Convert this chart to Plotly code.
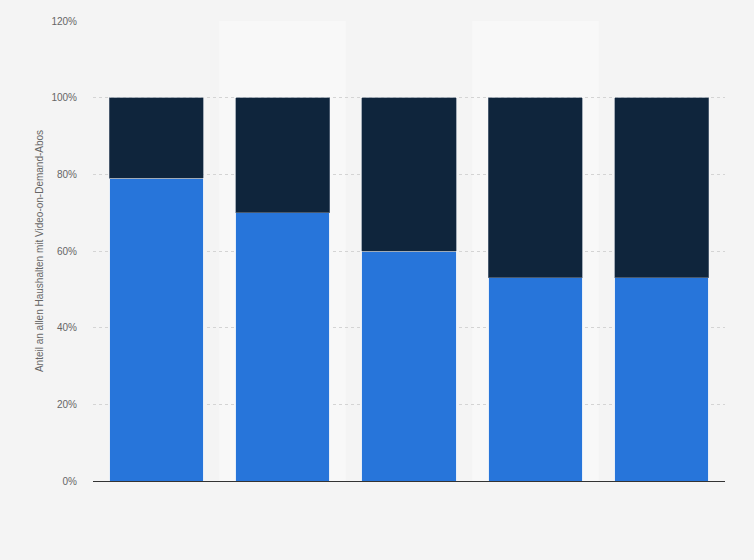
import plotly.graph_objects as go

categories = ["1", "2", "3", "4", "5"]
blue_values = [79, 70, 60, 53, 53]
navy_values = [21, 30, 40, 47, 47]
tick_values = [0, 20, 40, 60, 80, 100, 120]
tick_labels = ["0%", "20%", "40%", "60%", "80%", "100%", "120%"]
y_title = "Anteil an allen Haushalten mit Video-on-Demand-Abos"

fig = go.Figure()
fig.add_bar(x=categories, y=blue_values, marker=dict(color="#2775da", line=dict(color="#e6eef8", width=1)),
            hoverinfo="y")
fig.add_bar(x=categories, y=navy_values, marker=dict(color="#0f253c", line=dict(color="#6f7f90", width=0.6)),
            hoverinfo="y")

shapes = []
for i in (1, 3):
    shapes.append(dict(type="rect", xref="x", yref="paper", x0=i - 0.5, x1=i + 0.5, y0=0, y1=1,
                       fillcolor="#f8f8f8", line=dict(width=0), layer="below"))

fig.update_layout(
    barmode="stack",
    bargap=0.255,
    width=754, height=560,
    margin=dict(l=85, r=37, t=7, b=87),
    paper_bgcolor="#f4f4f4",
    plot_bgcolor="#f4f4f4",
    showlegend=False,
    shapes=shapes,
    font=dict(family="Liberation Sans, Arial, sans-serif", size=10, color="#666666"),
    xaxis=dict(showticklabels=False, showgrid=False, showline=True, linecolor="#333333", linewidth=1.2,
               ticks="", zeroline=False, range=[-0.5, 4.5]),
    yaxis=dict(range=[0, 120], tickvals=tick_values, ticktext=tick_labels, showgrid=True,
               gridcolor="#d4d4d4", griddash="dot", gridwidth=1, zeroline=False, ticks="",
               ticklabelstandoff=15, showline=False,
               title=dict(text=y_title, font=dict(size=10, color="#666666"), standoff=5)),
)

fig.write_html("out.html", post_script="document.body.style.background='#f4f4f4';")
